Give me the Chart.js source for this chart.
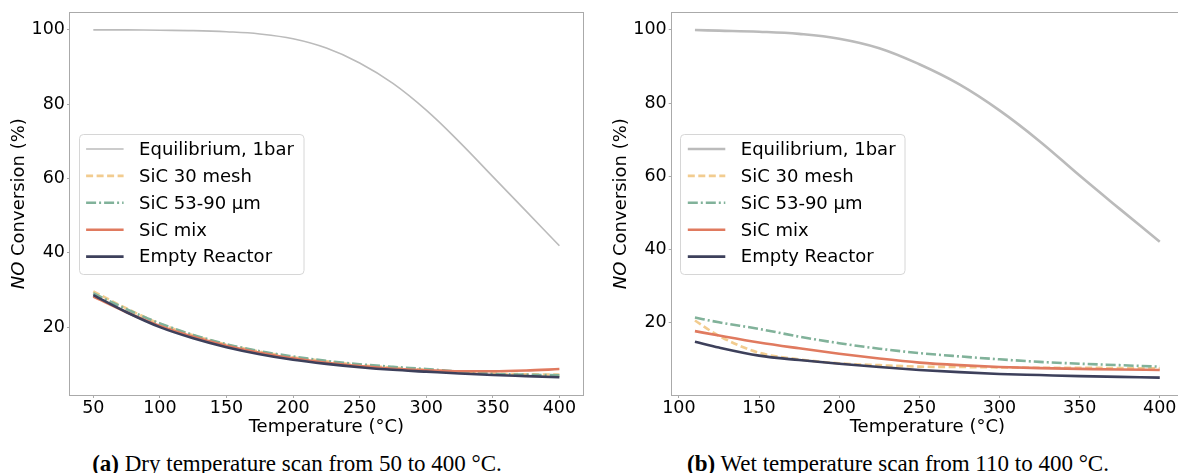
<!DOCTYPE html>
<html>
<head>
<meta charset="utf-8">
<script src="https://cdn.jsdelivr.net/npm/chart.js@4.4.1/dist/chart.umd.min.js"></script>
<style>
html, body { margin:0; padding:0; background:#fff; width:1178px; height:473px; overflow:hidden; }
#wrap { position:relative; width:1178px; height:473px; overflow:hidden; }
canvas { position:absolute; top:0; }
#chartDry { left:0; }
#chartWet { left:590px; }
.cap { position:absolute; top:452px; font-family:"Liberation Serif", serif; font-size:23px; line-height:23px; white-space:nowrap; transform:translateX(-50%); color:#000; }
</style>
</head>
<body>
<div id="wrap">
	<canvas id="chartDry" width="590" height="440"></canvas>
	<canvas id="chartWet" width="600" height="440"></canvas>
	<div class="cap" style="left:297px"><b>(a)</b> Dry temperature scan from 50 to 400 °C.</div>
	<div class="cap" style="left:898px"><b>(b)</b> Wet temperature scan from 110 to 400 °C.</div>
</div>
<script>
// データ
const labels = ['Equilibrium, 1bar', 'SiC 30 mesh', 'SiC 53-90 µm', 'SiC mix', 'Empty Reactor'];

// (a) dry
const tempDry   = [50, 75, 100, 125, 150, 175, 200, 225, 250, 275, 300, 325, 350, 375, 400];
const eqDry     = [100, 100, 99.9, 99.8, 99.5, 98.9, 97.6, 95.1, 91.1, 85.6, 78.4, 69.8, 60.5, 51.2, 41.9];
const mesh30Dry = [29.6, 25.0, 20.9, 17.8, 15.3, 13.4, 11.9, 10.8, 9.8, 9.1, 8.5, 7.9, 7.5, 7.3, 7.2];
const fineDry   = [29.1, 24.8, 21.0, 17.9, 15.4, 13.5, 12.1, 10.9, 10.0, 9.3, 8.7, 8.0, 7.4, 7.2, 7.0];
const mixDry    = [28.2, 24.0, 20.3, 17.4, 15.0, 13.1, 11.6, 10.4, 9.5, 8.8, 8.4, 8.1, 8.1, 8.3, 8.7];
const emptyDry  = [28.6, 24.0, 20.0, 17.0, 14.6, 12.7, 11.2, 10.1, 9.2, 8.5, 8.0, 7.5, 7.1, 6.8, 6.5];

// (b) wet
const tempWet   = [110, 125, 150, 175, 200, 225, 250, 275, 300, 325, 350, 375, 400];
const eqWet     = [99.95, 99.8, 99.5, 98.9, 97.6, 95.0, 90.6, 85.1, 78.0, 69.6, 60.2, 51.1, 42.1];
const mesh30Wet = [20.6, 16.4, 11.8, 10.0, 8.9, 8.4, 8.0, 7.9, 7.8, 7.7, 7.7, 7.6, 7.5];
const fineWet   = [21.4, 20.1, 18.3, 16.2, 14.4, 12.9, 11.7, 10.8, 10.0, 9.3, 8.8, 8.4, 8.0];
const mixWet    = [17.7, 16.5, 14.6, 13.0, 11.5, 10.2, 9.1, 8.4, 7.9, 7.6, 7.4, 7.2, 7.1];
const emptyWet  = [14.8, 13.2, 11.0, 9.8, 8.8, 7.9, 7.1, 6.5, 6.0, 5.7, 5.4, 5.2, 5.0];

const xTicksDry = [50, 100, 150, 200, 250, 300, 350, 400];
const xTicksWet = [100, 150, 200, 250, 300, 350, 400];
const yTicks    = [20, 40, 60, 80, 100];

const FONT = '"DejaVu Sans", sans-serif';

function pts(xs, ys)
{
	return xs.map((x, i) => ({ x: x, y: ys[i] }));
}

function makeDatasets(t, eq, m30, fine, mix, empty, eqWidth)
{
	const base = { pointRadius: 0, fill: false, cubicInterpolationMode: 'monotone', borderCapStyle: 'butt' };
	return [
		Object.assign({}, base, { label: labels[0], data: pts(t, eq),    borderColor: '#bbbbbb', borderWidth: eqWidth, order: 5, cubicInterpolationMode: 'default', tension: 0.4 }),
		Object.assign({}, base, { label: labels[1], data: pts(t, m30),   borderColor: '#f2cc8f', borderWidth: 2.6, borderDash: [7, 3.5], order: 4 }),
		Object.assign({}, base, { label: labels[2], data: pts(t, fine),  borderColor: '#81b29a', borderWidth: 2.6, borderDash: [10, 3, 2, 3], order: 3 }),
		Object.assign({}, base, { label: labels[3], data: pts(t, mix),   borderColor: '#e07a5f', borderWidth: 2.6, order: 2 }),
		Object.assign({}, base, { label: labels[4], data: pts(t, empty), borderColor: '#3d405b', borderWidth: 2.6, order: 1 })
	];
}

// 枠線・凡例・軸タイトル
function makeDecor(yTitleX)
{
	return {
		id: 'decor',
		afterDraw(chart)
		{
			const ctx = chart.ctx;
			const a = chart.chartArea;
			ctx.save();

			// frame
			ctx.strokeStyle = '#aaaaaa';
			ctx.lineWidth = 1;
			const fl = Math.round(a.left) - 0.5, ft = Math.round(a.top) - 0.5;
			ctx.strokeRect(fl, ft, Math.round(a.right) - Math.round(a.left) + 1, Math.round(a.bottom) - Math.round(a.top) + 1);

			// legend
			const bx = a.left + 8.6, by = a.top + 121.5, bw = 224.5, bh = 140;
			ctx.beginPath();
			ctx.roundRect(Math.round(bx) + 0.5, Math.round(by) + 0.5, bw, bh, 4);
			ctx.fillStyle = 'rgba(255,255,255,0.8)';
			ctx.fill();
			ctx.strokeStyle = '#d6d6d6';
			ctx.stroke();
			chart.data.datasets.forEach((ds, i) => {
				const yy = by + 15 + i * 26.9;
				ctx.beginPath();
				ctx.setLineDash(ds.borderDash || []);
				ctx.strokeStyle = ds.borderColor;
				ctx.lineWidth = ds.borderWidth;
				ctx.moveTo(bx + 7.5, yy);
				ctx.lineTo(bx + 45, yy);
				ctx.stroke();
				ctx.setLineDash([]);
				ctx.fillStyle = '#000';
				ctx.font = '18px ' + FONT;
				ctx.textAlign = 'left';
				ctx.textBaseline = 'middle';
				ctx.fillText(ds.label, bx + 60.5, yy + 1.2);
			});

			// x title
			ctx.fillStyle = '#000';
			ctx.font = '18px ' + FONT;
			ctx.textAlign = 'center';
			ctx.textBaseline = 'alphabetic';
			ctx.fillText('Temperature (°C)', (a.left + a.right) / 2, 432);

			// y title (NO はイタリック)
			ctx.translate(yTitleX, (a.top + a.bottom) / 2);
			ctx.rotate(-Math.PI / 2);
			const f1 = 'italic 18px ' + FONT, f2 = '18px ' + FONT;
			ctx.font = f1;
			const w1 = ctx.measureText('NO').width;
			ctx.font = f2;
			const w2 = ctx.measureText(' Conversion (%)').width;
			const x0 = -(w1 + w2) / 2;
			ctx.textAlign = 'left';
			ctx.textBaseline = 'middle';
			ctx.font = f1;
			ctx.fillText('NO', x0, 0);
			ctx.font = f2;
			ctx.fillText(' Conversion (%)', x0 + w1, 0);

			ctx.restore();
		}
	};
}

function axisX(min, max, ticks)
{
	return {
		type: 'linear', min: min, max: max,
		afterBuildTicks: s => { s.ticks = ticks.map(v => ({ value: v })); },
		afterFit: s => { s.height = 45; },
		grid: { drawOnChartArea: false, drawTicks: true, tickLength: 3, color: '#aaaaaa' },
		border: { display: false },
		ticks: { color: '#000', font: { family: FONT, size: 17.5, lineHeight: 1 }, padding: 2, maxRotation: 0, autoSkip: false }
	};
}

function axisY(min, max, width)
{
	return {
		type: 'linear', min: min, max: max,
		afterBuildTicks: s => { s.ticks = yTicks.map(v => ({ value: v })); },
		afterFit: s => { s.width = width; },
		grid: { drawOnChartArea: false, drawTicks: true, tickLength: 3, color: '#aaaaaa' },
		border: { display: false },
		ticks: { color: '#000', font: { family: FONT, size: 17.5 }, padding: 2 }
	};
}

function drawChart(id, datasets, xs, ys, target, yTitleX)
{
	const ctx = document.getElementById(id).getContext('2d');
	const pad = { left: 0, right: 0, top: 0, bottom: 0 };
	const chart = new Chart(ctx, {
		type: 'line',
		data: { datasets: datasets },
		options: {
			responsive: false,
			animation: false,
			devicePixelRatio: 1,
			layout: { padding: Object.assign({}, pad), autoPadding: false },
			plugins: { legend: { display: false }, tooltip: { enabled: false } },
			scales: { x: xs, y: ys }
		},
		plugins: [makeDecor(yTitleX)]
	});
	// プロット領域を目標位置に合わせる
	for (let k = 0; k < 4; k++) {
		const a = chart.chartArea;
		pad.left += target.left - a.left;
		pad.top += target.top - a.top;
		pad.right += a.right - target.right;
		pad.bottom += a.bottom - target.bottom;
		chart.config.options.layout.padding = Object.assign({}, pad);
		chart.update();
	}
	return chart;
}

drawChart('chartDry',
	makeDatasets(tempDry, eqDry, mesh30Dry, fineDry, mixDry, emptyDry, 1.6),
	axisX(32.5, 417.5, xTicksDry), axisY(1.72, 104.68, 70),
	{ left: 70, top: 12.3, right: 582.7, bottom: 395 }, 19.5);

drawChart('chartWet',
	makeDatasets(tempWet, eqWet, mesh30Wet, fineWet, mixWet, emptyWet, 2.6),
	axisX(95.5, 414.5, xTicksWet), axisY(0.25, 104.75, 81.7),
	{ left: 81.7, top: 12.7, right: 593, bottom: 395 }, 31.5);
</script>
</body>
</html>
